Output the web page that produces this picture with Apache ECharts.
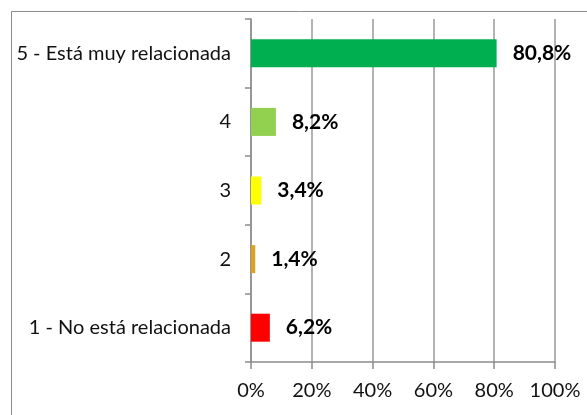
<!DOCTYPE html>
<html>
<head>
<meta charset="utf-8">
<script src="https://cdn.jsdelivr.net/npm/echarts@6/dist/echarts.min.js"></script>
<style>
  html, body { margin: 0; padding: 0; background: #fff; }
  #chart { width: 587px; height: 415px; }
</style>
</head>
<body>
<div id="chart"></div>
<script>
// categories bottom -> top
var categories = ['1 - No está relacionada', '2', '3', '4', '5 - Está muy relacionada']
var values = [6.2, 1.4, 3.4, 8.2, 80.8]
var barColors = ['#FF0000', '#D9A520', '#FFFF00', '#92D050', '#00B050']

var myChart = echarts.init(document.getElementById('chart'))
myChart.setOption({
  backgroundColor: '#fff',
  animation: false,
  textStyle: { fontFamily: 'Lato' },
  graphic: [{
    type: 'rect',
    shape: { x: 11.5, y: 11.5, width: 700, height: 500 },
    style: { fill: 'none', stroke: '#8c8c8c', lineWidth: 1 },
    silent: true
  }],
  grid: { left: 251, right: 32, top: 19, bottom: 53 },
  xAxis: {
    type: 'value',
    min: 0,
    max: 100,
    interval: 20,
    axisLine: { show: true, lineStyle: { color: '#8c8c8c', width: 1.5 } },
    axisTick: { show: true, length: 7, lineStyle: { color: '#8c8c8c', width: 1.5 } },
    splitLine: { show: true, lineStyle: { color: '#9a9a9a', width: 1.5 } },
    axisLabel: {
      color: '#111',
      fontSize: 20,
      margin: 19,
      formatter: function (v) { return v + '%' }
    }
  },
  yAxis: {
    type: 'category',
    data: categories,
    axisLine: { show: true, lineStyle: { color: '#8c8c8c', width: 1.5 } },
    axisTick: { show: true, length: 6, lineStyle: { color: '#8c8c8c', width: 1.5 } },
    axisLabel: { color: '#111', fontSize: 20, margin: 20 }
  },
  series: [{
    type: 'bar',
    barWidth: 28,
    data: values.map(function (v, i) {
      return { value: v, itemStyle: { color: barColors[i] } }
    }),
    label: {
      show: true,
      position: 'right',
      distance: 16,
      color: '#000',
      fontSize: 21,
      fontWeight: 'bold',
      formatter: function (p) { return String(p.value).replace('.', ',') + '%' }
    }
  }]
})
</script>
</body>
</html>
